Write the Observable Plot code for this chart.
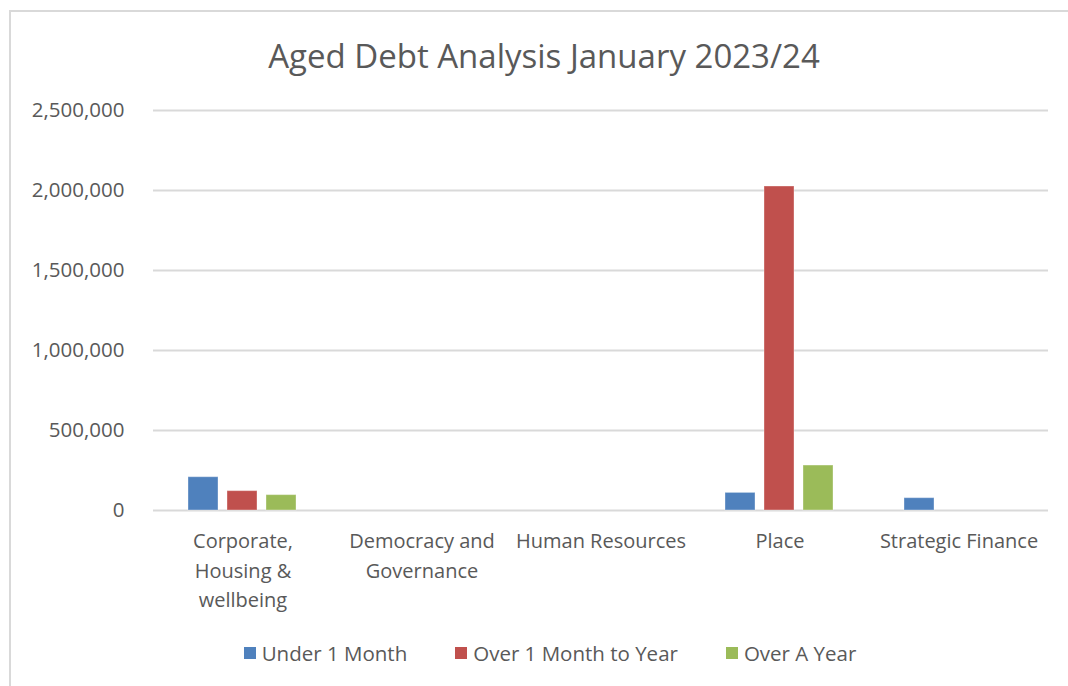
<!DOCTYPE html>
<html>
<head>
<meta charset="utf-8">
<script src="https://cdn.jsdelivr.net/npm/d3@7"></script>
<script src="https://cdn.jsdelivr.net/npm/@observablehq/plot@0.6"></script>
<style>
  html, body { margin: 0; padding: 0; background: #fff; }
  body { width: 1068px; height: 686px; overflow: hidden; position: relative; font-family: "Open Sans", sans-serif; color: #595959; }
  #frame { position: absolute; left: 9px; top: 10px; width: 1100px; height: 700px; border-left: 2px solid #d9d9d9; border-top: 2px solid #d9d9d9; box-sizing: border-box; }
  #title { position: absolute; left: 0; top: 36px; width: 1088px; text-align: center; font-size: 33px; color: #595959; line-height: 1.2; }
  #chart { position: absolute; left: 0; top: 90px; }
  #legend { position: absolute; top: 639px; left: 0; width: 1100px; display: flex; justify-content: center; font-size: 20.5px; color: #595959; }
  .item { display: flex; align-items: center; margin: 0 24px; }
  .sw { width: 12px; height: 12px; margin-right: 6px; }
</style>
</head>
<body>
<div id="frame"></div>
<div id="title">Aged Debt Analysis January 2023/24</div>
<div id="chart"></div>
<div id="legend"></div>
<script>
const departments = ["Corporate, Housing & wellbeing", "Democracy and Governance", "Human Resources", "Place", "Strategic Finance"];
const departmentLabels = ["Corporate,\nHousing &\nwellbeing", "Democracy and\nGovernance", "Human Resources", "Place", "Strategic Finance"];
const seriesNames = ["Under 1 Month", "Over 1 Month to Year", "Over A Year"];
const underOneMonth = [208000, 0, 0, 110000, 77000];
const overOneMonthToYear = [121000, 0, 0, 2025000, 0];
const overAYear = [96000, 0, 0, 281000, 0];
const seriesColors = ["#4f81bd", "#c0504d", "#9bbb59"];
const yTicks = [0, 500000, 1000000, 1500000, 2000000, 2500000];

const seriesValues = [underOneMonth, overOneMonthToYear, overAYear];
const data = [];
departments.forEach((d, i) => {
  seriesNames.forEach((s, j) => {
    data.push({dept: d, series: s, value: seriesValues[j][i]});
  });
});
const labelOf = new Map(departments.map((d, i) => [d, departmentLabels[i]]));

const chart = Plot.plot({
  width: 1068,
  height: 545,
  marginTop: 20,
  marginBottom: 125,
  marginLeft: 152,
  marginRight: 20,
  style: {fontFamily: "Open Sans, sans-serif", color: "#595959", background: "transparent", overflow: "visible"},
  fx: {domain: departments, padding: 0, label: null},
  x: {domain: seriesNames, paddingInner: 0.225, paddingOuter: 0.8625, axis: null},
  y: {domain: [0, 2500000], label: null},
  color: {domain: seriesNames, range: seriesColors},
  marks: [
    Plot.gridY(yTicks, {stroke: "#d9d9d9", strokeOpacity: 1, strokeWidth: 2}),
    Plot.barY(data, {fx: "dept", x: "series", y: "value", fill: "series", stroke: "white", strokeOpacity: 0.35, strokeWidth: 1}),
    Plot.axisY(yTicks, {tickSize: 0, tickPadding: 29, tickFormat: d3.format(","), fontSize: 20.5, label: null}),
    Plot.axisFx({anchor: "bottom", tickSize: 0, tickPadding: 17, fontSize: 20, lineHeight: 1.47, tickFormat: d => labelOf.get(d), label: null})
  ]
});
document.getElementById("chart").appendChild(chart);

const legend = document.getElementById("legend");
seriesNames.forEach((s, i) => {
  const item = document.createElement("div");
  item.className = "item";
  const sw = document.createElement("div");
  sw.className = "sw";
  sw.style.background = seriesColors[i];
  const t = document.createElement("span");
  t.textContent = s;
  item.appendChild(sw);
  item.appendChild(t);
  legend.appendChild(item);
});
</script>
</body>
</html>
